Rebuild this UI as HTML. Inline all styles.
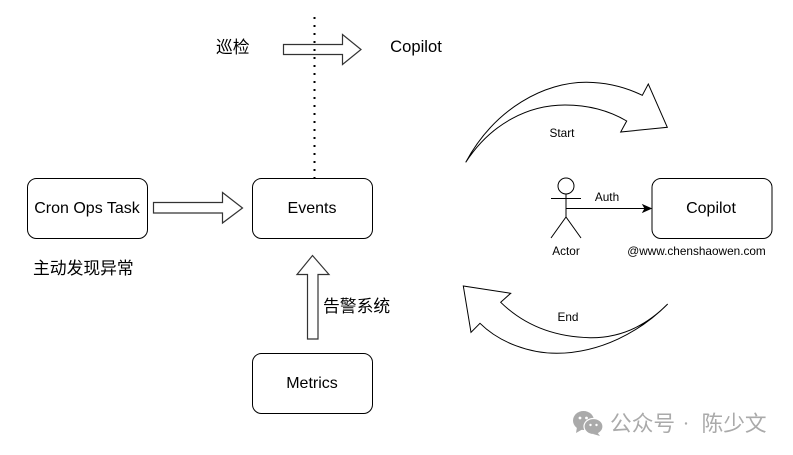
<!DOCTYPE html>
<html><head><meta charset="utf-8">
<style>
html,body{margin:0;padding:0;background:#fff}
svg{display:block}
text{font-family:"Liberation Sans","Noto Sans CJK SC",sans-serif;fill:#000}
</style></head>
<body>
<svg width="793" height="455" viewBox="0 0 793 455" xmlns="http://www.w3.org/2000/svg">
<rect width="793" height="455" fill="#fff"/>
<g fill="#fff" stroke="#000" stroke-width="1">
<rect x="27.5" y="178.5" width="120" height="60" rx="9"/>
<rect x="252.5" y="178.5" width="120" height="60" rx="9"/>
<rect x="652" y="178.5" width="120" height="60" rx="9"/>
<rect x="252.5" y="353.5" width="120" height="60" rx="9"/>
</g>
<g fill="#fff" stroke="#333" stroke-width="1.2">
<path d="M283.5 44.5H342.5V34.5L361 49.5L342.5 64.5V54.5H283.5Z"/>
<path d="M153.5 202.5H222.5V192.5L242.5 208L222.5 223V213H153.5Z"/>
<path d="M307.5 339V274.5H297L312.5 255.5L329 274.5H318V339Z"/>
</g>
<line x1="314.5" y1="17" x2="314.5" y2="178" stroke="#000" stroke-width="2" stroke-dasharray="2 6"/>
<g fill="#fff" stroke="#000" stroke-width="1" stroke-linejoin="miter">
<path d="M465.7 162.3C495 108 545 82 586.7 82.3C606 82.5 625 87 642.3 95.3L648.3 84L667.3 127.3L620.7 132L626.7 121C608 110 587 105 565 105C530 105 492 122 465.7 162.3Z"/>
<path d="M667.7 304C642 330 615 338 590 337.7C555 337 525 326 500.7 302.3L510.7 293.3L463.3 286L471 332.3L480 323.3C500 343 530 353.3 556.7 353.3C600 353 640 332 667.7 304Z"/>
<circle cx="566" cy="186" r="8"/>
</g>
<g fill="none" stroke="#000" stroke-width="1">
<path d="M566 194V217M551 198.5H581M551 238L566 217L581 238"/>
<path d="M566 208.5H645"/>
</g>
<path d="M651 208.5L643 205L645 208.5L643 212Z" fill="#000" stroke="#000" stroke-width="1"/>
<g font-size="16" text-anchor="middle">
<text x="87" y="213">Cron Ops Task</text>
<text x="312" y="213">Events</text>
<text x="711" y="213">Copilot</text>
<text x="312" y="388">Metrics</text>
<text x="416" y="52" font-size="16.6">Copilot</text>
</g>
<g font-size="11.8" text-anchor="middle">
<text x="562" y="137">Start</text>
<text x="568" y="321">End</text>
<text x="607" y="201">Auth</text>
<text x="566" y="255">Actor</text>
<text x="696.5" y="255">@www.chenshaowen.com</text>
</g>
<g font-size="16.8">
<text x="216" y="53">巡检</text>
<text x="33" y="274">主动发现异常</text>
<text x="323" y="312">告警系统</text>
</g>
<g fill="#aaa">
<ellipse cx="583.5" cy="420.5" rx="10.5" ry="9.5"/>
<path d="M577 427L576 433L583 429Z"/>
<ellipse cx="593.5" cy="426.5" rx="9.5" ry="8" stroke="#fff" stroke-width="1.2"/>
<path d="M597 432L600 436L593 434Z"/>
</g>
<g fill="#fff">
<circle cx="580" cy="418" r="1.4"/><circle cx="586.5" cy="418" r="1.4"/>
<circle cx="590.5" cy="425" r="1.2"/><circle cx="596.5" cy="425" r="1.2"/>
</g>
<g font-size="21.7" style="fill:#aaa">
<text x="610" y="431" style="fill:#aaa">公众号</text>
<text x="701.5" y="431" style="fill:#aaa">陈少文</text>
</g>
<circle cx="686" cy="423.5" r="1.2" fill="#aaa"/>
</svg>
</body></html>
